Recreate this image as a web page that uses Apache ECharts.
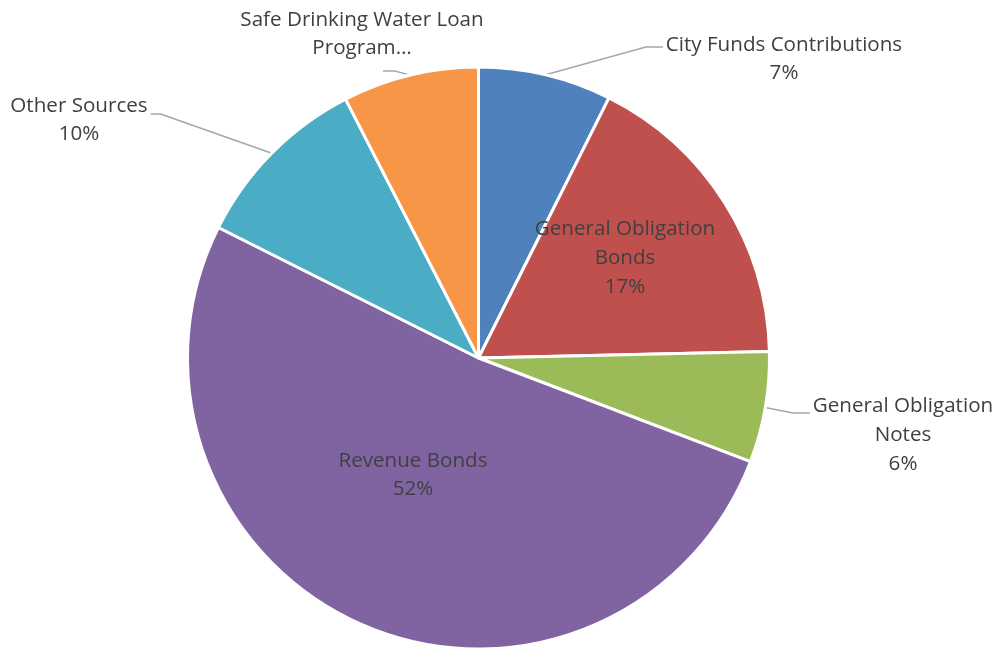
<!DOCTYPE html>
<html>
<head>
<meta charset="utf-8">
<script src="https://cdn.jsdelivr.net/npm/echarts@6/dist/echarts.min.js"></script>
<style>html,body{margin:0;padding:0;background:#fff}#c{width:1000px;height:650px}</style>
</head>
<body>
<div id="c"></div>
<script>
// ---- data ----
const categories = ['City Funds Contributions', 'General Obligation Bonds', 'General Obligation Notes', 'Revenue Bonds', 'Other Sources', 'Safe Drinking Water Loan Program…'];
const labelTexts = ['City Funds Contributions', 'General Obligation\nBonds', 'General Obligation\nNotes', 'Revenue Bonds', 'Other Sources', 'Safe Drinking Water Loan\nProgram…'];
const shares = [7.4, 17.25, 6.15, 51.6, 10.05, 7.55];
const showPercent = [true, true, true, true, true, false];
const colors = ['#4F81BD', '#C0504D', '#9BBB59', '#8064A2', '#4BACC6', '#F79646'];

// ---- label placement (style) ----
const FONT = 20.6, LH = 28.7;
const place = [
  {x: 784, y: 59, inside: false, side: 'right', dy: -12},
  {x: 625, y: 258, inside: true},
  {x: 903, y: 435, inside: false, side: 'right', dy: -22},
  {x: 413, y: 475, inside: true},
  {x: 79, y: 120, inside: false, side: 'left', dy: -6},
  {x: 362, y: 34, inside: false, side: 'bottom', dx: 21, dy: 37}
];

const chart = echarts.init(document.getElementById('c'), null, {renderer: 'canvas'});
const data = categories.map((n, i) => ({
  name: n,
  value: shares[i],
  itemStyle: {color: colors[i]},
  label: {position: place[i].inside ? 'inside' : 'outside'},
  labelLine: {show: !place[i].inside}
}));

chart.setOption({
  animation: false,
  series: [{
    type: 'pie',
    center: [478.5, 358],
    radius: 291,
    startAngle: 90,
    clockwise: true,
    avoidLabelOverlap: false,
    data: data,
    itemStyle: {borderColor: '#fff', borderWidth: 3},
    label: {
      show: true,
      fontFamily: 'Open Sans',
      fontSize: FONT,
      lineHeight: LH,
      color: '#404040',
      align: 'center',
      formatter: p => labelTexts[p.dataIndex] + (showPercent[p.dataIndex] ? '\n' + Math.round(p.percent) + '%' : '')
    },
    labelLine: {lineStyle: {color: '#A6A6A6', width: 1.5}, length: 10, length2: 10},
    labelLayout: function (params) {
      const i = params.dataIndex;
      const pl = place[i];
      const w = params.labelRect.width, h = params.labelRect.height;
      const res = {x: pl.x, y: pl.y, align: 'center', verticalAlign: 'middle'};
      if (!pl.inside && params.labelLinePoints) {
        const p0 = params.labelLinePoints[0];
        let end, elbow;
        if (pl.side === 'right') {
          end = [pl.x - w / 2 - 3, pl.y + pl.dy];
          elbow = [end[0] - 17, end[1]];
        } else if (pl.side === 'left') {
          end = [pl.x + w / 2 + 3, pl.y + pl.dy];
          elbow = [end[0] + 10, end[1]];
        } else {
          end = [pl.x + pl.dx, pl.y + pl.dy];
          elbow = [end[0] + 12, end[1]];
        }
        res.labelLinePoints = [p0, elbow, end];
      }
      return res;
    }
  }]
});
</script>
</body>
</html>
